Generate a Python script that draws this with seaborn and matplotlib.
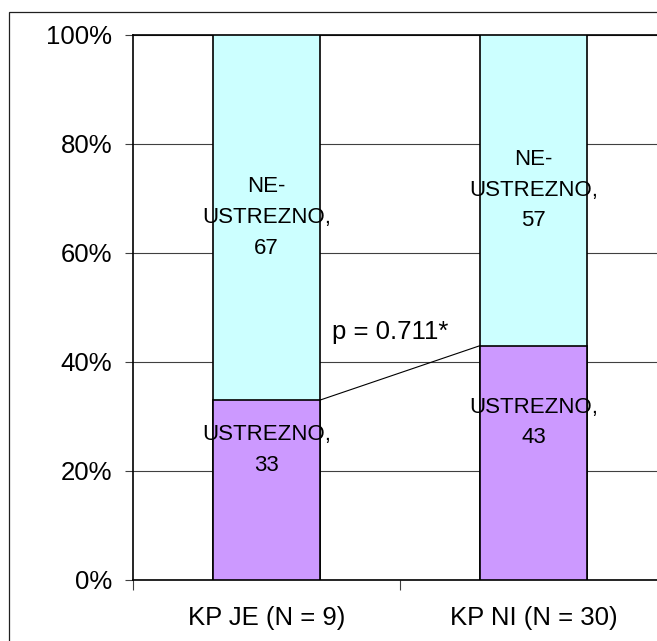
import matplotlib
matplotlib.use("Agg")
import matplotlib.pyplot as plt
from matplotlib.patches import Rectangle
from matplotlib.ticker import FixedLocator, FuncFormatter
import numpy as np
import pandas as pd
import seaborn as sns

# Data
categories = ["KP JE (N = 9)", "KP NI (N = 30)"]
ustrezno = [33, 43]
neustrezno = [67, 57]
p_label = "p = 0.711*"

sns.set_theme(style="white")
plt.rcParams["font.family"] = ["Liberation Sans", "DejaVu Sans"]

df = pd.DataFrame({
    "kategorija": categories,
    "ustrezno": ustrezno,
    "skupaj": np.array(ustrezno) + np.array(neustrezno),
})

fig = plt.figure(figsize=(6.57, 6.41), dpi=100)
ax = fig.add_axes([0.2024, 0.0952, 0.8128, 0.8502])

bar_w = 0.4
edge_kw = dict(edgecolor="black", linewidth=1.2, saturation=1, width=bar_w, zorder=3)
sns.barplot(data=df, x="kategorija", y="skupaj", color="#CCFFFF", ax=ax, **edge_kw)
sns.barplot(data=df, x="kategorija", y="ustrezno", color="#CC99FF", ax=ax, **edge_kw)

ax.set_xlim(-0.5, 1.5)
ax.set_ylim(0, 100)
ax.set_xlabel("")
ax.set_ylabel("")

# y axis: percent ticks with grid lines
ax.yaxis.set_major_locator(FixedLocator([0, 20, 40, 60, 80, 100]))
ax.yaxis.set_major_formatter(FuncFormatter(lambda v, _: f"{v:.0f}%"))
ax.yaxis.grid(True, color="#404040", linewidth=0.8, zorder=0)
ax.set_axisbelow(True)
ax.tick_params(axis="y", which="major", left=True, length=6, width=0.8,
               color="#404040", pad=9, labelsize=18.5, labelcolor="black")

# x axis: ticks between categories, labels centred under bars
ax.xaxis.set_major_locator(FixedLocator([-0.5, 0.5, 1.5]))
ax.xaxis.set_major_formatter(FuncFormatter(lambda v, _: ""))
ax.xaxis.set_minor_locator(FixedLocator([0, 1]))
ax.set_xticklabels(categories, minor=True)
ax.tick_params(axis="x", which="major", bottom=True, length=7, width=0.8, color="#404040")
ax.tick_params(axis="x", which="minor", bottom=True, length=0, pad=19,
               labelsize=18.5, labelcolor="black")

for s in ax.spines.values():
    s.set_visible(True)
    s.set_color("black")
    s.set_linewidth(1.2)

# Segment labels
lab_kw = dict(ha="center", va="center", fontsize=16, color="black",
              linespacing=1.6, zorder=5)
for i, (u, n) in enumerate(zip(ustrezno, neustrezno)):
    ax.annotate(f"NE-\nUSTREZNO,\n{n}", xy=(i, u + n / 2), **lab_kw)
    ax.annotate(f"USTREZNO,\n{u}", xy=(i, u / 2), xytext=(0, 29),
                textcoords="offset points", **lab_kw)

# Connector between the USTREZNO segments and the test result
ax.plot([0 + bar_w / 2, 1 - bar_w / 2], [ustrezno[0], ustrezno[1]],
        color="black", linewidth=0.8, zorder=4)
ax.text(0.245, 45.5, p_label, ha="left", va="center", fontsize=18.5, color="black")

# Chart area frame
fig.patches.append(Rectangle((9 / 657, -0.05), 1.1, (641 - 12) / 641 + 0.05,
                             transform=fig.transFigure, fill=False,
                             edgecolor="#202020", linewidth=0.9))

fig.savefig("out.png", dpi=100)
